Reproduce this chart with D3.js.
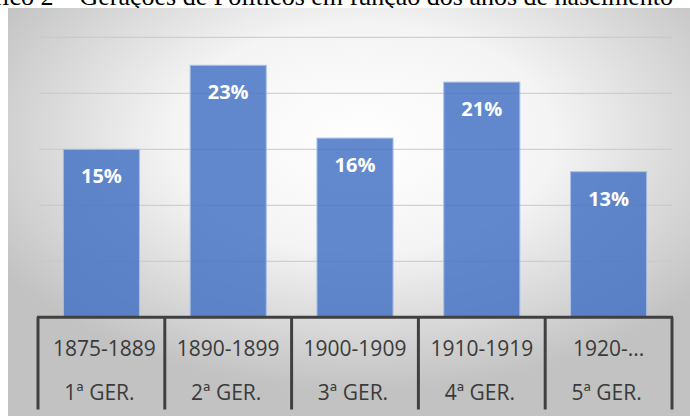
<!DOCTYPE html>
<html>
<head>
<meta charset="utf-8">
<script src="https://cdn.jsdelivr.net/npm/d3@7"></script>
<style>
  html,body{margin:0;padding:0;background:#fff;overflow:hidden;}
  svg{display:block;}
</style>
</head>
<body>
<div id="chart"></div>
<script>
// dados do gráfico
const periods = ["1875-1889","1890-1899","1900-1909","1910-1919","1920-..."];
const generations = ["1ª GER.","2ª GER.","3ª GER.","4ª GER.","5ª GER."];
const shares = [15, 22.5, 16, 21, 13];           // % do total
const shareLabels = ["15%","23%","16%","21%","13%"];
const gridTicks = [0, 5, 10, 15, 20, 25];
const title = "Gráfico 2 – Gerações de Políticos em função dos anos de nascimento";

(function(){
  const W=690,H=416;
  const svg=d3.select('#chart').append('svg').attr('width',W).attr('height',H);

  const defs=svg.append('defs');
  const grad=defs.append('radialGradient').attr('id','bg')
    .attr('cx','52%').attr('cy','32%').attr('r','62%');
  grad.append('stop').attr('offset','0%').attr('stop-color','#ffffff');
  grad.append('stop').attr('offset','45%').attr('stop-color','#f4f4f4');
  grad.append('stop').attr('offset','100%').attr('stop-color','#c2c2c2');

  // título (parcialmente cortado no topo, como no original)
  svg.append('text')
    .attr('x',673).attr('y',5)
    .attr('text-anchor','end')
    .style('font-family','"Liberation Serif","Times New Roman",serif')
    .style('font-size','26px')
    .attr('fill','#000')
    .text(title);

  // área do gráfico
  svg.append('rect').attr('x',8).attr('y',8).attr('width',W-8).attr('height',H-8)
    .attr('fill','url(#bg)');

  const X0=38,X1=672,Y0=317.3,Y1=37.3;
  const x=d3.scaleBand().domain(periods).range([X0,X1]).paddingInner(0.4).paddingOuter(0.2);
  const y=d3.scaleLinear().domain([0,25]).range([Y0,Y1]);

  // linhas de grade
  svg.append('g').selectAll('line').data(gridTicks.slice(1)).join('line')
    .attr('x1',X0+1).attr('x2',X1)
    .attr('y1',d=>y(d)).attr('y2',d=>y(d))
    .attr('stroke','#c8c8c8').attr('stroke-width',1);

  const data=periods.map((p,i)=>({p,g:generations[i],v:shares[i],l:shareLabels[i]}));

  // barras
  svg.append('g').selectAll('rect').data(data).join('rect')
    .attr('x',d=>x(d.p)).attr('width',x.bandwidth())
    .attr('y',d=>y(d.v)).attr('height',d=>Y0-y(d.v))
    .attr('fill','#4472c4').attr('fill-opacity',0.84)
    .attr('stroke','#a9bfe6').attr('stroke-width',1);

  // rótulos de dados
  svg.append('g').selectAll('text').data(data).join('text')
    .attr('x',d=>x(d.p)+x.bandwidth()/2)
    .attr('y',d=>y(d.v)+34)
    .attr('text-anchor','middle')
    .style('font-family','"Open Sans",sans-serif')
    .style('font-weight','bold').style('font-size','20px')
    .attr('fill','#fff')
    .text(d=>d.l);

  // eixo com categorias em dois níveis
  const step=x.step();
  const cellX=i=>X0+i*step;
  const axis=svg.append('g').attr('stroke','#404040').attr('stroke-width',3);
  axis.append('line').attr('x1',X0-1).attr('x2',X1+1).attr('y1',Y0).attr('y2',Y0);
  axis.selectAll('line.tick').data(d3.range(periods.length+1)).join('line')
    .attr('class','tick')
    .attr('x1',i=>cellX(i)).attr('x2',i=>cellX(i))
    .attr('y1',Y0).attr('y2',409.5);

  const lab=svg.append('g')
    .style('font-family','"Open Sans",sans-serif')
    .style('font-size','21px').attr('fill','#3a3a3a')
    .attr('text-anchor','middle');
  lab.selectAll('text.p').data(data).join('text').attr('class','p')
    .attr('x',(d,i)=>cellX(i)+step/2+(i===0?3:0)).attr('y',356)
    .text(d=>d.p);
  lab.selectAll('text.g').data(data).join('text').attr('class','g')
    .attr('x',(d,i)=>cellX(i)+step/2-2).attr('y',400)
    .text(d=>d.g);
})();
</script>
</body>
</html>
